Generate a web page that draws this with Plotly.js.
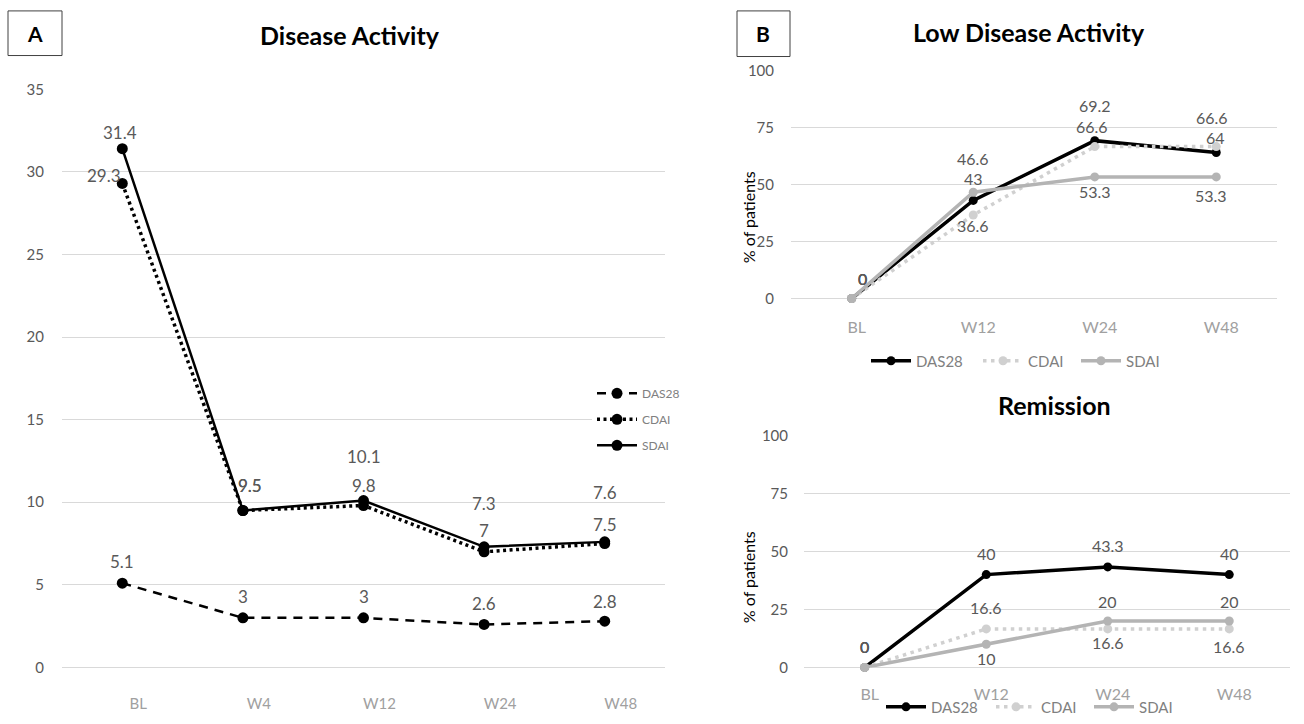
<!DOCTYPE html>
<html><head><meta charset="utf-8">
<script src="https://cdn.plot.ly/plotly-3.0.1.min.js"></script>
<style>html,body{margin:0;padding:0;background:#fff}#chart{width:1304px;height:724px}</style>
</head><body><div id="chart"></div>
<script>
// ---- data ----
const categoriesA = ['BL','W4','W12','W24','W48'];
const das28A = [5.1, 3, 3, 2.6, 2.8];
const cdaiA  = [29.3, 9.5, 9.8, 7, 7.5];
const sdaiA  = [31.4, 9.5, 10.1, 7.3, 7.6];

const categoriesB = ['BL','W12','W24','W48'];
const das28LDA = [0, 43, 69.2, 64];
const cdaiLDA  = [0, 36.6, 66.6, 66.6];
const sdaiLDA  = [0, 46.6, 53.3, 53.3];

const das28Rem = [0, 40, 43.3, 40];
const cdaiRem  = [0, 16.6, 16.6, 16.6];
const sdaiRem  = [0, 10, 20, 20];

const seriesNames = ['DAS28','CDAI','SDAI'];
const titleA = 'Disease Activity';
const titleB1 = 'Low Disease Activity';
const titleB2 = 'Remission';
const yTitleB = '% of patients';

// ---- style ----
const W = 1304, H = 724;
const FONT = 'Lato, "Open Sans", sans-serif';
const px = v => v / W, py = v => 1 - v / H;
const labelGray = '#595959';
const gridCol = '#d9d9d9';

// label offsets [dx, dy-up] per point (styling only)
const offA = {
  DAS28: [[0,22],[0,21],[0,21],[0,21],[0,20]],
  CDAI:  [[-18,8],[7,25],[0,20],[0,21],[0,19]],
  SDAI:  [[-2,16],[7,25],[0,44],[0,43],[0,49]]
};
const offLDA = {
  DAS28: [[11,20],[0,22],[0,35],[-1,15]],
  CDAI:  [[11,20],[0,-10],[-3,20],[-4,29]],
  SDAI:  [[11,20],[0,34],[0,-15],[-5,-19]]
};
const offRem = {
  DAS28: [[0,21],[0,21],[0,21],[0,21]],
  CDAI:  [[0,21],[0,21],[0,-14],[0,-18]],
  SDAI:  [[0,21],[0,-14],[0,20],[0,20]]
};
const legWidthTop = {DAS28: 57, CDAI: 43, SDAI: 40};
const legWidthBot = {DAS28: 55, CDAI: 43, SDAI: 40};

const traces = [];
const ann = [];

function addLabels(cats, vals, offs, xref, yref, size) {
  vals.forEach((v, i) => {
    ann.push({x: cats[i], y: v, xref, yref, text: String(v), showarrow: false,
      xanchor: 'center', yanchor: 'middle',
      xshift: offs[i][0], yshift: offs[i][1],
      font: {family: FONT, size, color: labelGray}});
  });
}

// Panel A
const styleA = {
  DAS28: {dash: '9px,7px', width: 2.5},
  CDAI:  {dash: '3px,3.5px', width: 3.5},
  SDAI:  {dash: 'solid', width: 2.5}
};
[das28A, cdaiA, sdaiA].forEach((vals, k) => {
  const nm = seriesNames[k];
  traces.push({x: categoriesA, y: vals, name: nm, type: 'scatter', mode: 'lines+markers',
    xaxis: 'x', yaxis: 'y', legend: 'legend', legendgroup: 'a' + nm, cliponaxis: false,
    line: {color: '#000', width: styleA[nm].width, dash: styleA[nm].dash},
    marker: {color: '#000', size: 11}, hoverinfo: 'skip'});
  addLabels(categoriesA, vals, offA[nm], 'x', 'y', 17);
});

// Panel B
const colB = {DAS28: '#000000', CDAI: '#d0d0d0', SDAI: '#b4b4b4'};
const dashB = {DAS28: 'solid', CDAI: '3.5px,4.5px', SDAI: 'solid'};
[[das28LDA, cdaiLDA, sdaiLDA, 'x2', 'y2', 'legend2', offLDA, legWidthTop],
 [das28Rem, cdaiRem, sdaiRem, 'x3', 'y3', 'legend3', offRem, legWidthBot]].forEach(set => {
  for (let k = 0; k < 3; k++) {
    const nm = seriesNames[k];
    traces.push({x: categoriesB, y: set[k], name: nm, type: 'scatter', mode: 'lines+markers',
      xaxis: set[3], yaxis: set[4], legend: set[5], cliponaxis: false, legendwidth: set[7][nm],
      line: {color: colB[nm], width: 3.5, dash: dashB[nm]},
      marker: {color: colB[nm], size: 9}, hoverinfo: 'skip'});
  }
  for (let k = 0; k < 3; k++) addLabels(categoriesB, set[k], set[6][seriesNames[k]], set[3], set[4], 16);
});

// titles & boxes
function paperText(x, y, text, size, extra) {
  ann.push(Object.assign({xref:'paper', yref:'paper', x: px(x), y: py(y), text, showarrow:false,
    xanchor:'center', yanchor:'middle', font:{family: FONT, size, color:'#000'}}, extra || {}));
}
paperText(350, 35, '<b>'+titleA+'</b>', 25);
paperText(1029, 32, '<b>'+titleB1+'</b>', 25);
paperText(1054, 408, '<b>'+titleB2+'</b>', 25);
paperText(35, 34, '<b>A</b>', 21);
paperText(763, 34, '<b>B</b>', 21);
paperText(748, 219, yTitleB, 16, {textangle: -90});
paperText(748, 582, yTitleB, 16, {textangle: -90});

const shapes = [
  {type:'rect', xref:'paper', yref:'paper', x0: px(8), x1: px(62), y0: py(56), y1: py(11), line:{color:'#404040', width:1}},
  {type:'rect', xref:'paper', yref:'paper', x0: px(737), x1: px(790), y0: py(57), y1: py(11), line:{color:'#404040', width:1}}
];

const xBase = {showgrid:false, zeroline:false, showline:false, ticks:'', type:'category'};
const yBase = {showgrid:true, gridcolor: gridCol, gridwidth:1, zeroline:true, zerolinecolor: gridCol, zerolinewidth:1,
  showline:false, ticks:''};

const layout = {
  width: W, height: H, margin:{l:0,r:0,t:0,b:0}, paper_bgcolor:'#fff', plot_bgcolor:'#fff',
  font:{family: FONT},
  xaxis: Object.assign({}, xBase, {domain:[px(62), px(665)], range:[-0.5, 4.5], anchor:'y',
    tickfont:{family: FONT, size: 15, color:'#a0a0a0'}, ticklabelstandoff: 26, ticklabelshift: 16}),
  yaxis: Object.assign({}, yBase, {domain:[py(673), py(90)], range:[0,35], dtick:5, anchor:'x',
    tickfont:{family: FONT, size: 15, color: labelGray}, ticklabelstandoff: 17}),
  xaxis2: Object.assign({}, xBase, {domain:[px(791), px(1277)], range:[-0.5, 3.5], anchor:'y2',
    tickfont:{family: FONT, size: 16, color:'#a0a0a0'}, ticklabelstandoff: 17, ticklabelshift: 5}),
  yaxis2: Object.assign({}, yBase, {domain:[py(301), py(71)], range:[0,100], dtick:25, anchor:'x2',
    tickfont:{family: FONT, size: 15, color: labelGray}, ticklabelstandoff: 16}),
  xaxis3: Object.assign({}, xBase, {domain:[px(804), px(1290)], range:[-0.5, 3.5], anchor:'y3',
    tickfont:{family: FONT, size: 16, color:'#a0a0a0'}, ticklabelstandoff: 16, ticklabelshift: 5}),
  yaxis3: Object.assign({}, yBase, {domain:[py(673), py(439)], range:[0,100], dtick:25, anchor:'x3',
    tickfont:{family: FONT, size: 15, color: labelGray}, ticklabelstandoff: 15}),
  legend: {orientation:'v', x: px(592), y: py(382), xanchor:'left', yanchor:'top', bgcolor:'#ffffff',
    itemwidth: 40, traceorder:'grouped', tracegroupgap: 7, font:{family: FONT, size: 12, color:'#808080'}},
  legend2: {orientation:'h', x: px(866), y: py(364), xanchor:'left', yanchor:'middle', bgcolor:'rgba(0,0,0,0)',
    itemwidth: 40, font:{family: FONT, size: 15, color:'#808080'}},
  legend3: {orientation:'h', x: px(881), y: py(713), xanchor:'left', yanchor:'middle', bgcolor:'rgba(0,0,0,0)',
    itemwidth: 40, font:{family: FONT, size: 15, color:'#808080'}},
  annotations: ann, shapes: shapes, showlegend: true
};

Plotly.newPlot('chart', traces, layout, {staticPlot: true, displayModeBar: false});
</script>
</body></html>
